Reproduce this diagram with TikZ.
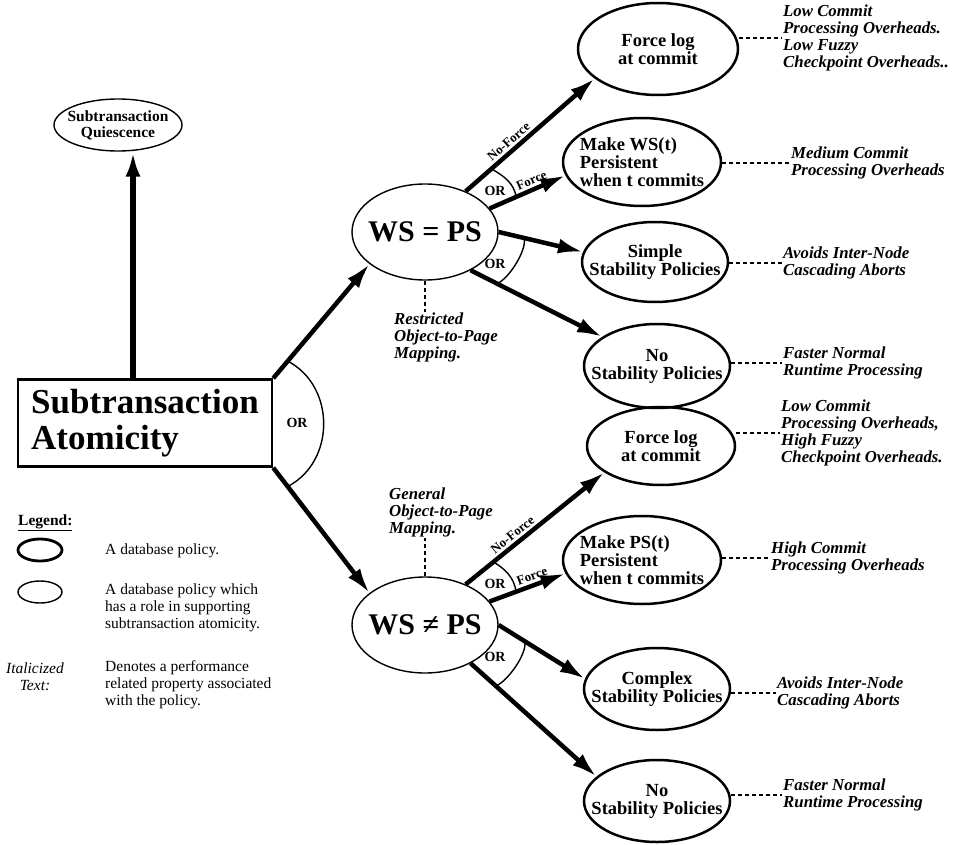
\documentclass[tikz,border=0pt]{standalone}
\usepackage{fontspec}
\setmainfont{Liberation Serif}
\usepackage{tikz}
\usetikzlibrary{
    calc,
    arrows.meta,
    shapes.geometric,
    positioning
}
\tikzset{
    policy/.style={ellipse, draw, line width=2.5pt, inner xsep=-18pt, inner ysep=0pt, align=center,
        font=\bfseries\fontsize{18.5}{18}\selectfont},
    rolepolicy/.style={ellipse, draw, line width=1.4pt, inner xsep=-8pt, inner ysep=0pt, align=center},
    wsnode/.style={rolepolicy, inner xsep=-12pt, minimum width=146pt, minimum height=96pt,
        font=\bfseries\fontsize{30}{30}\selectfont},
    rootbox/.style={draw, line width=2.5pt, minimum width=254pt, minimum height=87pt,
        inner sep=0pt, align=left, font=\bfseries\fontsize{35}{36}\selectfont},
    perf/.style={anchor=west, align=left, inner sep=1pt,
        font=\bfseries\itshape\fontsize{16.8}{17}\selectfont},
    bigarrow/.style={line width=4.5pt, -{Latex[length=25pt,width=15pt]}},
    dotline/.style={line width=1.6pt, dash pattern=on 4pt off 3pt},
    orarc/.style={line width=1.4pt},
    orlbl/.style={inner sep=0pt, font=\bfseries\fontsize{14}{14}\selectfont},
    edgelbl/.style={sloped, above, inner sep=2.5pt, font=\bfseries\fontsize{13}{13}\selectfont},
    legtext/.style={anchor=west, align=left, inner sep=0pt, font=\fontsize{15.5}{17}\selectfont}
}

\begin{document}
\begin{tikzpicture}[x=1pt,y=-1pt]
    \useasboundingbox (0,0) rectangle (969,845);

    \draw (145,423) node[rootbox](atom){Subtransaction\\Atomicity};
    \draw (118,125) node[rolepolicy, minimum width=128pt, minimum height=52pt,
        font=\bfseries\fontsize{15.5}{16}\selectfont](quies){Subtransaction\\Quiescence};
    \draw[bigarrow, line width=5.5pt] ([xshift=15pt]quies |- atom.north) to ([xshift=15pt]quies.south);

    % WS = PS branch
    \begin{scope}[shift={(425,232)}]
        \draw (0,0) node[wsnode](ws1){WS = PS};
        \draw (233,-183) node[policy, minimum width=160pt, minimum height=92pt](f1){Force log\\at commit};
        \draw (217,-70) node[policy, minimum width=158pt, minimum height=88pt, align=left](m1){Make WS(t)\\Persistent\\when t commits};
        \draw (230,30) node[policy, minimum width=146pt, minimum height=80pt](s1){Simple\\Stability Policies};
        \draw (232,134) node[policy, minimum width=146pt, minimum height=84pt](n1){No\\Stability Policies};

        \draw[bigarrow] (ws1.45) to node[edgelbl, pos=0.38]{No-Force} (f1.205);
        \draw[bigarrow] (ws1.20) to node[edgelbl, pos=0.6]{Force} (m1.190);
        \draw[bigarrow] (ws1.0) to (s1.172);
        \draw[bigarrow] (ws1.-40) to (n1.152);

        \coordinate (o1a) at ($(ws1.45)!0.2!(f1.205)$);
        \coordinate (o1b) at ($(ws1.20)!0.35!(m1.190)$);
        \draw[orarc] (o1a) .. controls +(12,7) and +(-2,-14) .. (o1b);
        \draw (70,-41) node[orlbl](or1){OR};
        \coordinate (o2a) at ($(ws1.0)!0.3!(s1.172)$);
        \coordinate (o2b) at ($(ws1.-40)!0.2!(n1.152)$);
        \draw[orarc] (o2a) .. controls +(3.5,11.5) and +(11.5,-4) .. (o2b);
        \draw (70,32) node[orlbl](or2){OR};
    \end{scope}

    % WS /= PS branch
    \begin{scope}[shift={(425,625)}]
        \draw (0,0) node[wsnode](ws2){WS ≠ PS};
        \draw (236,-179) node[policy, minimum width=148pt, minimum height=78pt](f2){Force log\\at commit};
        \draw (217,-65) node[policy, minimum width=158pt, minimum height=88pt, align=left](m2){Make PS(t)\\Persistent\\when t commits};
        \draw (232,64) node[policy, minimum width=146pt, minimum height=82pt](c2){Complex\\Stability Policies};
        \draw (232,176) node[policy, minimum width=146pt, minimum height=82pt](n2){No\\Stability Policies};

        \draw[bigarrow] (ws2.45) to node[edgelbl, pos=0.38]{No-Force} (f2.205);
        \draw[bigarrow] (ws2.20) to node[edgelbl, pos=0.6]{Force} (m2.190);
        \draw[bigarrow] (ws2.0) to (c2.172);
        \draw[bigarrow] (ws2.-40) to (n2.158);

        \coordinate (o3a) at ($(ws2.45)!0.2!(f2.205)$);
        \coordinate (o3b) at ($(ws2.20)!0.35!(m2.190)$);
        \draw[orarc] (o3a) .. controls +(12,7) and +(-2,-14) .. (o3b);
        \draw (70,-41) node[orlbl](or3){OR};
        \coordinate (o4a) at ($(ws2.0)!0.3!(c2.172)$);
        \coordinate (o4b) at ($(ws2.-40)!0.2!(n2.158)$);
        \draw[orarc] (o4a) .. controls +(3.5,11.5) and +(11.5,-4) .. (o4b);
        \draw (70,32) node[orlbl](or4){OR};
    \end{scope}

    \draw[bigarrow] (atom.north east) to (ws1.210);
    \draw[bigarrow] (atom.south east) to (ws2.150);
    \coordinate (o0a) at ($(atom.north east)!0.15!(ws1.210)$);
    \coordinate (o0b) at ($(atom.south east)!0.15!(ws2.150)$);
    \draw[orarc] (o0a) .. controls +(48,25) and +(48,-25) .. (o0b);
    \draw (297,423) node[orlbl](or0){OR};

    % performance notes
    \draw (782,38) node[perf](p1){Low Commit\\Processing Overheads.\\Low Fuzzy\\Checkpoint Overheads..};
    \draw (790,163) node[perf](p2){Medium Commit\\Processing Overheads};
    \draw (782,263) node[perf](p3){Avoids Inter-Node\\Cascading Aborts};
    \draw (782,363) node[perf](p4){Faster Normal\\Runtime Processing};
    \draw (780,433) node[perf](p5){Low Commit\\Processing Overheads,\\High Fuzzy\\Checkpoint Overheads.};
    \draw (770,558) node[perf](p6){High Commit\\Processing Overheads};
    \draw (776,693) node[perf](p7){Avoids Inter-Node\\Cascading Aborts};
    \draw (782,795) node[perf](p8){Faster Normal\\Runtime Processing};
    \draw[dotline] (f1.east |- p1.west) -- (p1.west);
    \draw[dotline] (m1.east |- p2.west) -- (p2.west);
    \draw[dotline] (s1.east |- p3.west) -- (p3.west);
    \draw[dotline] (n1.east |- p4.west) -- (p4.west);
    \draw[dotline] (f2.east |- p5.west) -- (p5.west);
    \draw[dotline] (m2.east |- p6.west) -- (p6.west);
    \draw[dotline] (c2.east |- p7.west) -- (p7.west);
    \draw[dotline] (n2.east |- p8.west) -- (p8.west);

    \draw (393,312) node[perf, anchor=north west](map1){Restricted\\Object-to-Page\\Mapping.};
    \draw (388,538) node[perf, anchor=south west](map2){General\\Object-to-Page\\Mapping.};
    \draw[dotline] (ws1.south) -- (ws1.south |- map1.north);
    \draw[dotline] (ws2.north) -- (ws2.north |- map2.south);

    % legend
    \draw (18,523) node[anchor=west, inner sep=0pt, font=\bfseries\fontsize{15.5}{17}\selectfont](leghead){\underline{Legend:}};
    \draw (40,550) node[ellipse, draw, line width=2.8pt, minimum width=44pt, minimum height=22pt](leg1){};
    \draw (40,592) node[ellipse, draw, line width=1.4pt, minimum width=44pt, minimum height=22pt](leg2){};
    \draw (105,551) node[legtext](legt1){A database policy.};
    \draw (105,608) node[legtext](legt2){A database policy which\\has a role in supporting\\subtransaction atomicity.};
    \draw (35,677) node[align=center, inner sep=0pt, font=\itshape\fontsize{15.5}{17}\selectfont](legt3){Italicized\\Text:};
    \draw (105,685) node[legtext](legt4){Denotes a performance\\related property associated\\with the policy.};
\end{tikzpicture}
\end{document}
